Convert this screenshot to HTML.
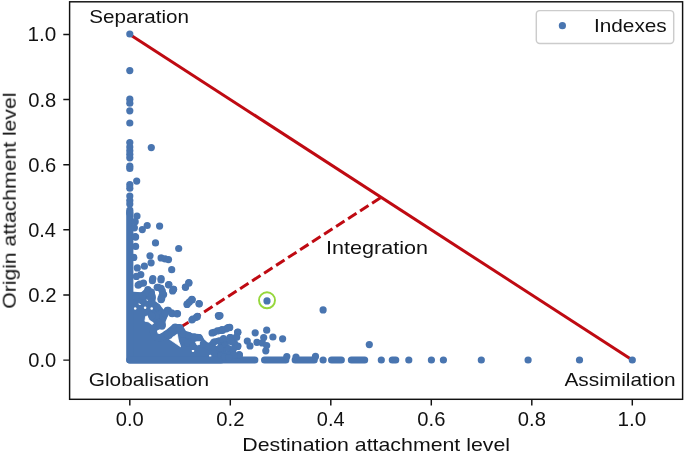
<!DOCTYPE html>
<html><head><meta charset="utf-8"><title>Attachment levels</title>
<style>
html,body{margin:0;padding:0;background:#fff;}
body{width:685px;height:454px;position:relative;overflow:hidden;font-family:"Liberation Sans",sans-serif;color:#111;}
.t{position:absolute;left:0;top:0;white-space:nowrap;line-height:1;font-size:19.0px;transform-origin:0 0;font-kerning:none;will-change:transform;}
</style></head><body>
<svg width="685" height="454" viewBox="0 0 685 454" style="display:block;position:absolute;left:0;top:0">
<rect width="685" height="454" fill="#fff"/>
<path d="M129.8 34.4 L632.3 360.1" stroke="#bf0a12" stroke-width="3.0" fill="none"/>
<path d="M180.1 327.6 L381.1 197.3" stroke="#bf0a12" stroke-width="3.0" stroke-dasharray="10 4.3" fill="none"/>
<g fill="#4975b0">
<path d="M129.8 213.0 L129.8 295.0 L137.2 295.5 L142.5 295.9 L148.4 290.6 L151.7 295.2 L152.0 303.0 L157.0 307.1 L161.0 312.0 L165.0 313.7 L162.3 320.0 L161.6 324.6 L155.0 327.5 L153.0 331.0 L155.0 336.5 L160.0 338.0 L164.5 335.5 L167.5 333.4 L171.0 330.5 L174.7 327.5 L179.8 327.5 L183.5 334.2 L187.2 335.0 L191.9 337.0 L199.1 337.7 L203.1 344.3 L210.0 347.0 L214.3 342.3 L219.3 341.1 L221.0 341.5 L221.0 360.0 L129.8 360.0 Z" stroke="#4975b0" stroke-width="7.2" stroke-linejoin="round"/>
<path d="M145.6 316.5 L148.2 315.9 L148.9 319.8 L153.5 323.1 L152.2 324.5 L148.2 321.8 L144.9 321.2 Z" fill="#fff" stroke="#fff" stroke-width="0.8" stroke-linejoin="round"/>
<path d="M177.3 334.2 L169.6 339.3 L180.6 346.8 L178.3 340.0 Z" fill="#fff" stroke="#fff" stroke-width="0.8" stroke-linejoin="round"/>
<path d="M195.5 342.0 L200.5 341.2 L200.8 344.0 L197.0 345.0 Z" fill="#fff" stroke="#fff" stroke-width="0.8" stroke-linejoin="round"/>
<circle cx="134.5" cy="297.2" r="1.25" fill="#fff"/>
<circle cx="139.8" cy="303.8" r="1.25" fill="#fff"/>
<circle cx="147.8" cy="299.8" r="1.25" fill="#fff"/>
<circle cx="135.2" cy="308.4" r="1.25" fill="#fff"/>
<circle cx="145.1" cy="307.8" r="1.25" fill="#fff"/>
<circle cx="151.7" cy="308.4" r="1.25" fill="#fff"/>
<circle cx="193.0" cy="350.7" r="1.25" fill="#fff"/>
<circle cx="210.2" cy="356.0" r="1.25" fill="#fff"/>
<circle cx="223.4" cy="352.7" r="1.25" fill="#fff"/>
<circle cx="216.8" cy="344.8" r="1.25" fill="#fff"/>
<circle cx="228.0" cy="343.4" r="1.25" fill="#fff"/>
<circle cx="152.0" cy="323.0" r="1.25" fill="#fff"/>
<path d="M129.8 360.0 H254.8" stroke="#4975b0" stroke-width="7.2" stroke-linecap="round" fill="none"/>
<path d="M264.6 360.0 H285.8" stroke="#4975b0" stroke-width="7.2" stroke-linecap="round" fill="none"/>
<path d="M295.2 360.0 H314.2" stroke="#4975b0" stroke-width="7.2" stroke-linecap="round" fill="none"/>
<path d="M331.6 360.0 H341.3" stroke="#4975b0" stroke-width="7.2" stroke-linecap="round" fill="none"/>
<path d="M351.4 360.0 H364.6" stroke="#4975b0" stroke-width="7.2" stroke-linecap="round" fill="none"/>
<path d="M392.3 360.0 H395.7" stroke="#4975b0" stroke-width="7.2" stroke-linecap="round" fill="none"/>
<circle cx="129.8" cy="34.0" r="3.6"/>
<circle cx="129.8" cy="70.6" r="3.6"/>
<circle cx="129.8" cy="99.2" r="3.6"/>
<circle cx="129.8" cy="103.2" r="3.6"/>
<circle cx="129.8" cy="110.8" r="3.6"/>
<circle cx="129.8" cy="123.0" r="3.6"/>
<circle cx="129.8" cy="142.5" r="3.6"/>
<circle cx="129.8" cy="147.0" r="3.6"/>
<circle cx="129.8" cy="150.8" r="3.6"/>
<circle cx="129.8" cy="154.3" r="3.6"/>
<circle cx="129.8" cy="157.8" r="3.6"/>
<circle cx="129.8" cy="166.2" r="3.6"/>
<circle cx="129.8" cy="168.5" r="3.6"/>
<circle cx="129.8" cy="184.7" r="3.6"/>
<circle cx="129.8" cy="188.2" r="3.6"/>
<circle cx="129.8" cy="196.1" r="3.6"/>
<circle cx="129.8" cy="200.5" r="3.6"/>
<circle cx="129.8" cy="204.0" r="3.6"/>
<circle cx="129.8" cy="210.2" r="3.6"/>
<circle cx="129.8" cy="212.9" r="3.6"/>
<circle cx="151.3" cy="147.6" r="3.6"/>
<circle cx="136.7" cy="181.1" r="3.6"/>
<circle cx="137.0" cy="216.0" r="3.6"/>
<circle cx="135.2" cy="221.7" r="3.6"/>
<circle cx="147.2" cy="225.5" r="3.6"/>
<circle cx="142.3" cy="229.6" r="3.6"/>
<circle cx="159.6" cy="226.1" r="3.6"/>
<circle cx="134.4" cy="227.8" r="3.6"/>
<circle cx="135.2" cy="236.6" r="3.6"/>
<circle cx="135.6" cy="237.1" r="3.6"/>
<circle cx="155.5" cy="242.9" r="3.6"/>
<circle cx="135.6" cy="246.4" r="3.6"/>
<circle cx="178.7" cy="248.5" r="3.6"/>
<circle cx="150.0" cy="255.8" r="3.6"/>
<circle cx="133.8" cy="257.4" r="3.6"/>
<circle cx="161.1" cy="257.9" r="3.6"/>
<circle cx="165.0" cy="258.8" r="3.6"/>
<circle cx="168.5" cy="259.6" r="3.6"/>
<circle cx="151.1" cy="262.8" r="3.6"/>
<circle cx="144.4" cy="266.2" r="3.6"/>
<circle cx="137.3" cy="267.9" r="3.6"/>
<circle cx="171.7" cy="269.7" r="3.6"/>
<circle cx="140.8" cy="274.6" r="3.6"/>
<circle cx="136.4" cy="276.4" r="3.6"/>
<circle cx="152.8" cy="278.5" r="3.6"/>
<circle cx="161.1" cy="278.5" r="3.6"/>
<circle cx="143.5" cy="283.1" r="3.6"/>
<circle cx="138.2" cy="285.2" r="3.6"/>
<circle cx="188.9" cy="283.1" r="3.6"/>
<circle cx="168.5" cy="284.8" r="3.6"/>
<circle cx="185.4" cy="287.0" r="3.6"/>
<circle cx="157.2" cy="287.3" r="3.6"/>
<circle cx="161.1" cy="288.4" r="3.6"/>
<circle cx="173.4" cy="289.3" r="3.6"/>
<circle cx="147.9" cy="289.6" r="3.6"/>
<circle cx="151.4" cy="292.2" r="3.6"/>
<circle cx="162.9" cy="294.0" r="3.6"/>
<circle cx="143.5" cy="296.7" r="3.6"/>
<circle cx="152.3" cy="297.5" r="3.6"/>
<circle cx="191.9" cy="299.3" r="3.6"/>
<circle cx="161.1" cy="298.4" r="3.6"/>
<circle cx="191.9" cy="299.7" r="3.6"/>
<circle cx="187.0" cy="304.4" r="3.6"/>
<circle cx="199.0" cy="303.7" r="3.6"/>
<circle cx="162.0" cy="296.2" r="3.6"/>
<circle cx="161.1" cy="299.7" r="3.6"/>
<circle cx="150.5" cy="297.9" r="3.6"/>
<circle cx="147.0" cy="292.6" r="3.6"/>
<circle cx="172.6" cy="290.9" r="3.6"/>
<circle cx="136.4" cy="297.0" r="3.6"/>
<circle cx="141.7" cy="300.6" r="3.6"/>
<circle cx="156.7" cy="307.6" r="3.6"/>
<circle cx="167.3" cy="310.3" r="3.6"/>
<circle cx="171.7" cy="312.9" r="3.6"/>
<circle cx="177.0" cy="313.8" r="3.6"/>
<circle cx="151.4" cy="314.7" r="3.6"/>
<circle cx="162.9" cy="316.4" r="3.6"/>
<circle cx="196.3" cy="317.3" r="3.6"/>
<circle cx="191.9" cy="320.0" r="3.6"/>
<circle cx="218.4" cy="315.6" r="3.6"/>
<circle cx="158.5" cy="322.6" r="3.6"/>
<circle cx="162.0" cy="326.1" r="3.6"/>
<circle cx="175.2" cy="327.0" r="3.6"/>
<circle cx="179.6" cy="327.9" r="3.6"/>
<circle cx="171.7" cy="331.4" r="3.6"/>
<circle cx="166.4" cy="334.0" r="3.6"/>
<circle cx="184.0" cy="334.0" r="3.6"/>
<circle cx="189.3" cy="336.7" r="3.6"/>
<circle cx="199.0" cy="337.6" r="3.6"/>
<circle cx="214.0" cy="332.3" r="3.6"/>
<circle cx="220.1" cy="330.5" r="3.6"/>
<circle cx="226.3" cy="328.8" r="3.6"/>
<circle cx="214.0" cy="342.0" r="3.6"/>
<circle cx="219.3" cy="341.1" r="3.6"/>
<circle cx="224.5" cy="342.9" r="3.6"/>
<circle cx="203.4" cy="343.7" r="3.6"/>
<circle cx="183.1" cy="341.1" r="3.6"/>
<circle cx="187.5" cy="342.9" r="3.6"/>
<circle cx="192.8" cy="346.4" r="3.6"/>
<circle cx="267.0" cy="300.9" r="3.6"/>
<circle cx="323.1" cy="309.9" r="3.6"/>
<circle cx="220.0" cy="315.6" r="3.6"/>
<circle cx="229.7" cy="327.4" r="3.6"/>
<circle cx="221.8" cy="330.5" r="3.6"/>
<circle cx="237.6" cy="332.3" r="3.6"/>
<circle cx="255.2" cy="332.8" r="3.6"/>
<circle cx="266.7" cy="330.2" r="3.6"/>
<circle cx="272.9" cy="337.0" r="3.6"/>
<circle cx="282.6" cy="338.8" r="3.6"/>
<circle cx="263.7" cy="337.6" r="3.6"/>
<circle cx="230.6" cy="337.6" r="3.6"/>
<circle cx="223.5" cy="338.5" r="3.6"/>
<circle cx="236.7" cy="337.2" r="3.6"/>
<circle cx="247.3" cy="341.1" r="3.6"/>
<circle cx="257.0" cy="342.3" r="3.6"/>
<circle cx="262.3" cy="342.9" r="3.6"/>
<circle cx="266.7" cy="345.5" r="3.6"/>
<circle cx="250.0" cy="345.9" r="3.6"/>
<circle cx="237.6" cy="346.4" r="3.6"/>
<circle cx="225.3" cy="342.9" r="3.6"/>
<circle cx="265.8" cy="350.8" r="3.6"/>
<circle cx="230.6" cy="351.7" r="3.6"/>
<circle cx="222.6" cy="349.9" r="3.6"/>
<circle cx="239.4" cy="355.2" r="3.6"/>
<circle cx="315.5" cy="356.4" r="3.6"/>
<circle cx="296.0" cy="357.0" r="3.6"/>
<circle cx="286.8" cy="356.6" r="3.6"/>
<circle cx="369.3" cy="344.6" r="3.6"/>
<circle cx="323.1" cy="360.0" r="3.6"/>
<circle cx="381.3" cy="360.0" r="3.6"/>
<circle cx="408.8" cy="360.0" r="3.6"/>
<circle cx="431.4" cy="360.0" r="3.6"/>
<circle cx="443.4" cy="360.0" r="3.6"/>
<circle cx="481.3" cy="360.0" r="3.6"/>
<circle cx="528.1" cy="360.0" r="3.6"/>
<circle cx="579.5" cy="360.0" r="3.6"/>
<circle cx="632.3" cy="360.0" r="3.6"/>
<circle cx="229.3" cy="327.6" r="3.6"/>
<circle cx="222.6" cy="330.2" r="3.6"/>
<circle cx="237.9" cy="332.2" r="3.6"/>
<circle cx="229.9" cy="337.5" r="3.6"/>
<circle cx="223.3" cy="339.5" r="3.6"/>
<circle cx="236.5" cy="336.8" r="3.6"/>
<circle cx="234.5" cy="343.4" r="3.6"/>
<circle cx="225.3" cy="345.4" r="3.6"/>
<circle cx="237.9" cy="346.1" r="3.6"/>
<circle cx="230.6" cy="352.0" r="3.6"/>
<circle cx="222.6" cy="350.7" r="3.6"/>
<circle cx="239.2" cy="354.7" r="3.6"/>
<circle cx="226.6" cy="354.7" r="3.6"/>
<circle cx="220.0" cy="348.0" r="3.6"/>
<circle cx="228.5" cy="348.5" r="3.6"/>
<circle cx="233.2" cy="349.4" r="3.6"/>
<circle cx="233.9" cy="355.0" r="3.6"/>
<circle cx="231.2" cy="341.4" r="3.6"/>
<circle cx="221.0" cy="355.5" r="3.6"/>
<circle cx="224.5" cy="357.0" r="3.6"/>
<circle cx="229.0" cy="357.5" r="3.6"/>
<circle cx="139.8" cy="284.0" r="3.6"/>
<circle cx="152.4" cy="280.7" r="3.6"/>
<circle cx="161.0" cy="280.0" r="3.6"/>
<circle cx="168.9" cy="284.6" r="3.6"/>
<circle cx="173.6" cy="289.3" r="3.6"/>
<circle cx="188.8" cy="282.6" r="3.6"/>
<circle cx="185.5" cy="287.3" r="3.6"/>
<circle cx="158.3" cy="287.3" r="3.6"/>
<circle cx="162.3" cy="291.2" r="3.6"/>
<circle cx="163.6" cy="294.5" r="3.6"/>
<circle cx="161.7" cy="298.5" r="3.6"/>
<circle cx="151.7" cy="295.2" r="3.6"/>
<circle cx="142.5" cy="295.9" r="3.6"/>
<circle cx="192.1" cy="299.8" r="3.6"/>
<circle cx="187.4" cy="303.8" r="3.6"/>
<circle cx="199.3" cy="303.8" r="3.6"/>
<circle cx="197.4" cy="316.4" r="3.6"/>
<circle cx="192.7" cy="319.0" r="3.6"/>
<circle cx="157.0" cy="307.1" r="3.6"/>
<circle cx="168.3" cy="310.4" r="3.6"/>
<circle cx="172.2" cy="313.7" r="3.6"/>
<circle cx="177.5" cy="313.7" r="3.6"/>
<circle cx="165.0" cy="313.7" r="3.6"/>
<circle cx="151.7" cy="315.7" r="3.6"/>
<circle cx="162.3" cy="325.0" r="3.6"/>
<circle cx="174.9" cy="327.6" r="3.6"/>
<circle cx="179.5" cy="328.3" r="3.6"/>
<circle cx="183.5" cy="334.2" r="3.6"/>
<circle cx="168.9" cy="335.5" r="3.6"/>
<circle cx="188.8" cy="335.5" r="3.6"/>
<circle cx="194.0" cy="336.9" r="3.6"/>
<circle cx="189.4" cy="301.9" r="3.6"/>
<circle cx="218.8" cy="316.3" r="3.6"/>
<circle cx="212.1" cy="332.9" r="3.6"/>
<circle cx="217.4" cy="330.9" r="3.6"/>
<circle cx="222.0" cy="329.5" r="3.6"/>
<circle cx="228.0" cy="327.6" r="3.6"/>
<circle cx="160.1" cy="325.1" r="3.6"/>
<circle cx="172.0" cy="332.4" r="3.6"/>
<circle cx="168.0" cy="335.0" r="3.6"/>
</g>
<circle cx="267" cy="300.3" r="8" fill="none" stroke="#96d73c" stroke-width="1.9"/>
<rect x="69.6" y="1.8" width="613.0" height="397.5" fill="none" stroke="#111" stroke-width="1.45"/>
<path d="M129.8 399.3 v6.3 M69.6 360.1 h-6.3 M230.3 399.3 v6.3 M69.6 295.0 h-6.3 M330.8 399.3 v6.3 M69.6 229.8 h-6.3 M431.3 399.3 v6.3 M69.6 164.7 h-6.3 M531.8 399.3 v6.3 M69.6 99.5 h-6.3 M632.3 399.3 v6.3 M69.6 34.4 h-6.3" stroke="#111" stroke-width="1.45" fill="none"/>
<rect x="536.3" y="10.6" width="137.4" height="32.8" rx="3.5" fill="#fff" fill-opacity="0.8" stroke="#ccc" stroke-width="1.45"/>
<circle cx="562.4" cy="25.7" r="3.6" fill="#4975b0"/>
</svg>
<div class="t" style="transform:translate(89.26px,6.72px) scaleX(1.0857)">Separation</div>
<div class="t" style="transform:translate(88.75px,370.22px) scaleX(1.0961)">Globalisation</div>
<div class="t" style="transform:translate(564.46px,370.22px) scaleX(1.0960)">Assimilation</div>
<div class="t" style="transform:translate(326.01px,238.12px) scaleX(1.1348)">Integration</div>
<div class="t" style="transform:translate(593.88px,16.32px) scaleX(1.0951)">Indexes</div>
<div class="t" style="transform:translate(242.25px,434.72px) scaleX(1.1219)">Destination attachment level</div>
<div class="t" style="font-size:19.6px;transform:translate(115.81px,410.11px) scaleX(1.0266)">0.0</div>
<div class="t" style="font-size:19.6px;transform:translate(28.21px,351.16px) scaleX(1.0266)">0.0</div>
<div class="t" style="font-size:19.6px;transform:translate(216.31px,410.11px) scaleX(1.0355)">0.2</div>
<div class="t" style="font-size:19.6px;transform:translate(28.21px,286.01px) scaleX(1.0355)">0.2</div>
<div class="t" style="font-size:19.6px;transform:translate(316.82px,410.11px) scaleX(1.0190)">0.4</div>
<div class="t" style="font-size:19.6px;transform:translate(28.22px,220.86px) scaleX(1.0190)">0.4</div>
<div class="t" style="font-size:19.6px;transform:translate(417.31px,410.11px) scaleX(1.0305)">0.6</div>
<div class="t" style="font-size:19.6px;transform:translate(28.21px,155.71px) scaleX(1.0305)">0.6</div>
<div class="t" style="font-size:19.6px;transform:translate(517.81px,410.11px) scaleX(1.0301)">0.8</div>
<div class="t" style="font-size:19.6px;transform:translate(28.21px,90.56px) scaleX(1.0301)">0.8</div>
<div class="t" style="font-size:19.6px;transform:translate(617.52px,410.11px) scaleX(1.0565)">1.0</div>
<div class="t" style="font-size:19.6px;transform:translate(27.42px,25.41px) scaleX(1.0565)">1.0</div>
<div class="t" style="transform:translate(-0.28px,308.70px) rotate(-90deg) scaleX(1.1122)">Origin attachment level</div>
</body></html>
